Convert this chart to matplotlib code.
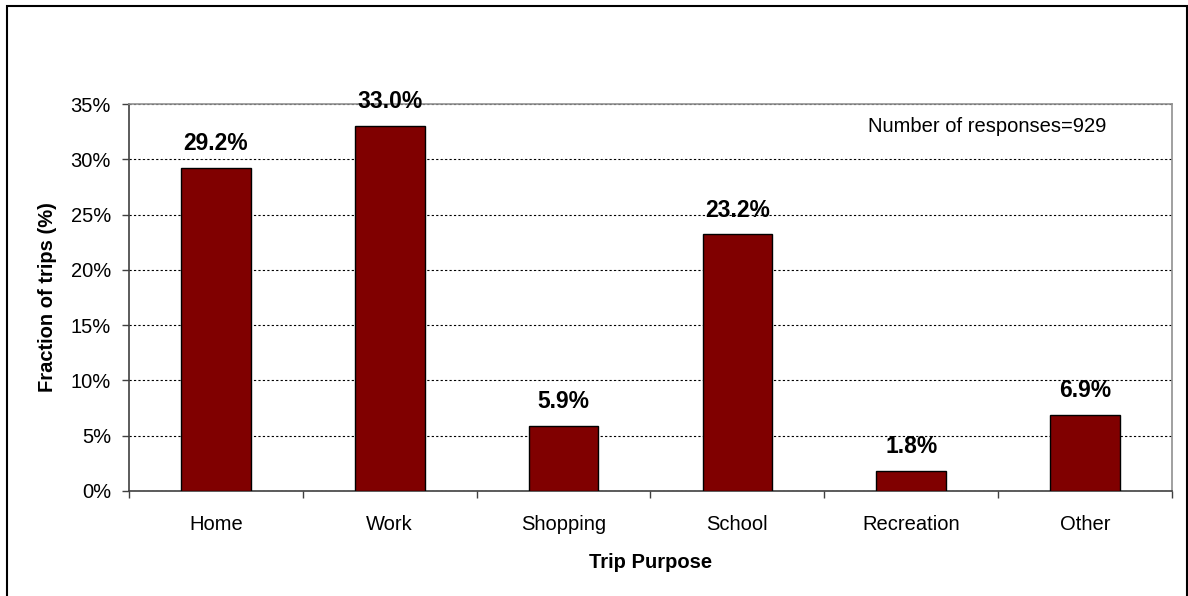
import matplotlib.pyplot as plt
from matplotlib.patches import Rectangle
from matplotlib.ticker import FuncFormatter, MultipleLocator
import numpy as np

purposes = ['Home', 'Work', 'Shopping', 'School', 'Recreation', 'Other']
fractions = [29.2, 33.0, 5.9, 23.2, 1.8, 6.9]
n_responses = 929

plt.rcParams['font.family'] = ['Liberation Sans', 'DejaVu Sans']

fig = plt.figure(figsize=(11.88, 5.96), dpi=100)
ax = fig.add_axes([129 / 1188, 1 - 491 / 596, (1172 - 129) / 1188, (491 - 104) / 596])

x = np.arange(len(purposes))
ax.bar(x, fractions, width=0.4, color='#800000', edgecolor='black', linewidth=1.0, zorder=3)

for xi, v in zip(x, fractions):
    ax.text(xi, v + 1.6, f'{v:.1f}%', ha='center', va='baseline',
            fontsize=16.5, fontweight='bold', zorder=4)

ax.set_xlim(-0.5, len(purposes) - 0.5)
ax.set_ylim(0, 35)
ax.yaxis.set_major_locator(MultipleLocator(5))
ax.yaxis.set_major_formatter(FuncFormatter(lambda v, p: f'{v:.0f}%'))
ax.grid(axis='y', color='black', linestyle=(0, (2, 2)), linewidth=0.8, zorder=1)

ax.set_xticks(x)
ax.set_xticklabels(purposes)
ax.set_xticks(np.arange(len(purposes) + 1) - 0.5, minor=True)
ax.tick_params(axis='x', which='major', length=0, pad=17, labelsize=14.5)
ax.tick_params(axis='x', which='minor', length=5, width=1.0, direction='out', color='#404040')
ax.tick_params(axis='y', length=5, width=1.0, direction='out', color='#404040', labelsize=14.5, pad=8)

for side in ['top', 'right']:
    ax.spines[side].set_color('#909090')
    ax.spines[side].set_linewidth(1.2)
for side in ['left', 'bottom']:
    ax.spines[side].set_color('#404040')
    ax.spines[side].set_linewidth(1.2)

ax.set_xlabel('Trip Purpose', fontsize=14.5, fontweight='bold', labelpad=14)
ax.set_ylabel('Fraction of trips (%)', fontsize=14.5, fontweight='bold', labelpad=10)

ax.text(0.937, 0.943, f'Number of responses={n_responses}', transform=ax.transAxes,
        ha='right', va='center', fontsize=14.5)

# outer chart border
fig.patches.append(Rectangle((7 / 1188, -0.05), (1187 - 7) / 1188, 1.05 - 6 / 596,
                             transform=fig.transFigure, fill=False,
                             edgecolor='black', linewidth=1.5))

fig.savefig('out.png', dpi=100)
